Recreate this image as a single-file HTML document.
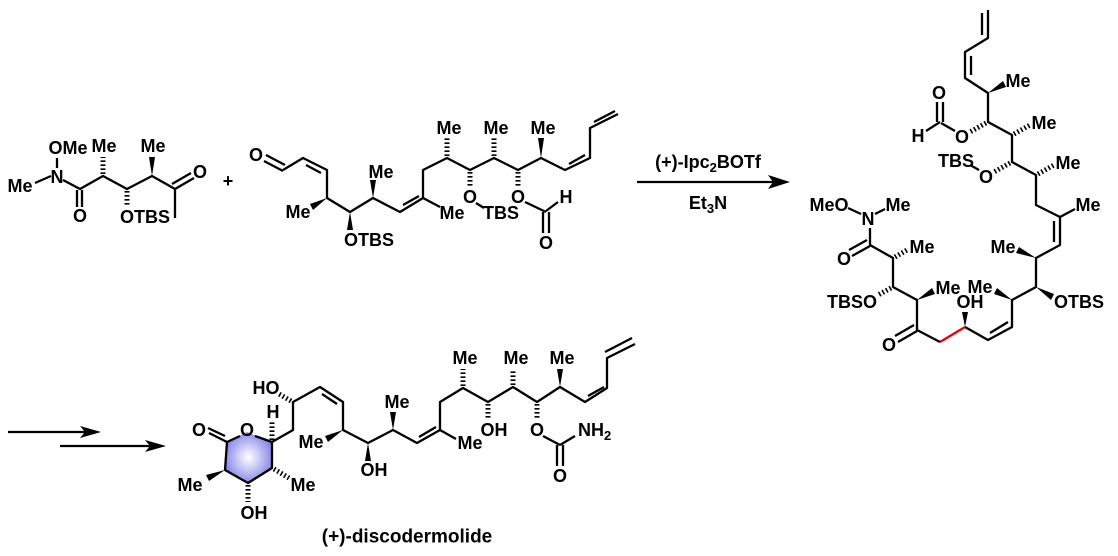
<!DOCTYPE html>
<html><head><meta charset="utf-8"><style>
html,body{margin:0;padding:0;background:#fff;}
svg{display:block;}
text{font-family:"Liberation Sans",Arial,sans-serif;font-weight:bold;font-size:18px;fill:#000;dominant-baseline:central;text-anchor:middle;}
.b{stroke:#000;stroke-width:2.3;fill:none;stroke-linejoin:round;}
.h{stroke:#000;stroke-width:5;stroke-dasharray:1.6 2.4;fill:none;}
.w{fill:#000;}
</style></head><body>
<svg width="1118" height="556" viewBox="0 0 1118 556" xmlns="http://www.w3.org/2000/svg">
<defs><radialGradient id="g" cx="50%" cy="50%" r="55%"><stop offset="0" stop-color="#ffffff"/><stop offset="1" stop-color="#8080e8"/></radialGradient></defs>

<!-- Structure 1 -->
<polyline class="b" points="35,183 51,176"/>
<text x="20" y="186">Me</text>
<text x="57" y="177">N</text>
<polyline class="b" points="57,168 57,158"/>
<text x="68" y="148">OMe</text>
<polyline class="b" points="63,180 80,189 103,176 127,189 152,176 175,189 175,218"/>
<line class="b" x1="77" y1="190" x2="77" y2="207"/><line class="b" x1="82" y1="190" x2="82" y2="207"/>
<text x="80" y="216">O</text>
<line class="h" x1="103" y1="174" x2="103" y2="157"/><text x="104" y="146">Me</text>
<line class="h" x1="127" y1="191" x2="127" y2="207"/><text x="120" y="217" style="text-anchor:start">OTBS</text>
<polygon class="w" points="152,176 149,157 155,157"/><text x="153" y="146">Me</text>
<line class="b" x1="175" y1="189" x2="194" y2="178"/><line class="b" x1="172" y1="184" x2="191" y2="173"/>
<text x="200" y="172">O</text>
<text x="228" y="181">+</text>

<!-- Structure 2 -->
<text x="256" y="155">O</text>
<line class="b" x1="264" y1="161" x2="283" y2="171"/><line class="b" x1="266" y1="155" x2="285" y2="165"/>
<polyline class="b" points="283,170 303,158 327,170 327,198 350,212 373,198 400,212 423,198 423,170 447,158 470,170 494,158 518,170 541,158 565,170 590,158 590,128 618,114"/>
<line class="b" x1="306" y1="165" x2="321" y2="173"/>
<line class="b" x1="403" y1="205" x2="419" y2="196"/>
<line class="b" x1="569" y1="164" x2="585" y2="155"/>
<line class="b" x1="594" y1="122" x2="615" y2="111"/>
<polygon class="w" points="327,198 310,204 313,210"/><text x="298" y="212">Me</text>
<polygon class="w" points="350,212 347,230 353,230"/><text x="344" y="240" style="text-anchor:start">OTBS</text>
<polygon class="w" points="373,198 370,180 376,180"/><text x="381" y="172">Me</text>
<line class="b" x1="423" y1="198" x2="440" y2="207"/><text x="452" y="213">Me</text>
<line class="h" x1="447" y1="156" x2="447" y2="138"/><text x="449" y="128">Me</text>
<line class="h" x1="470" y1="172" x2="470" y2="188"/><text x="470" y="197">O</text>
<line class="b" x1="476" y1="203" x2="484" y2="208"/><text x="501" y="213">TBS</text>
<line class="h" x1="494" y1="156" x2="494" y2="138"/><text x="496" y="128">Me</text>
<line class="h" x1="518" y1="172" x2="518" y2="188"/><text x="518" y="197">O</text>
<line class="b" x1="525" y1="202" x2="546" y2="212"/>
<line class="b" x1="546" y1="211" x2="558" y2="202"/><text x="566" y="197">H</text>
<line class="b" x1="543" y1="212" x2="543" y2="233"/><line class="b" x1="549" y1="212" x2="549" y2="233"/>
<text x="546" y="243">O</text>
<polygon class="w" points="541,158 538,138 544,138"/><text x="543" y="128">Me</text>

<!-- Arrow 1 -->
<line class="b" x1="637" y1="182" x2="775" y2="182"/>
<polygon class="w" points="790,182 768,175 773,182 768,189"/>
<text x="708" y="162">(+)-Ipc<tspan font-size="13" dy="5">2</tspan><tspan dy="-5">BOTf</tspan></text>
<text x="708" y="203">Et<tspan font-size="13" dy="5">3</tspan><tspan dy="-5">N</tspan></text>

<!-- Product -->
<polyline class="b" points="988,10 988,38 965,52 965,78 988,93 988,122 1012,135 1012,162 1036,175 1036,205 1060,217 1060,245 1036,258 1036,287 1012,300 1012,327 988,340 965,327"/>
<line x1="965" y1="327" x2="940" y2="342" stroke="#e00" stroke-width="2.3"/>
<polyline class="b" points="940,342 917,330 917,300 893,287 893,258 870,245 870,228"/>
<line class="b" x1="982" y1="13" x2="982" y2="35"/>
<line class="b" x1="971" y1="56" x2="971" y2="75"/>
<line class="b" x1="1054" y1="221" x2="1054" y2="242"/>
<line class="b" x1="1008" y1="322" x2="990" y2="333"/>
<line class="b" x1="917" y1="331" x2="898" y2="342"/><line class="b" x1="914" y1="325" x2="895" y2="336"/>
<text x="889" y="345">O</text>
<line class="b" x1="870" y1="246" x2="852" y2="256"/><line class="b" x1="867" y1="240" x2="849" y2="250"/>
<text x="844" y="259">O</text>
<text x="868" y="219">N</text>
<text x="829" y="205">MeO</text>
<line class="b" x1="848" y1="208" x2="861" y2="214"/>
<line class="b" x1="875" y1="214" x2="885" y2="209"/>
<text x="898" y="205">Me</text>
<polygon class="w" points="988,93 1003,81 1006,87"/><text x="1018" y="81">Me</text>
<line class="h" x1="986" y1="123" x2="970" y2="132"/><text x="962" y="137">O</text>
<line class="b" x1="955" y1="131" x2="941" y2="123"/>
<line class="b" x1="937" y1="122" x2="937" y2="102"/><line class="b" x1="943" y1="122" x2="943" y2="102"/>
<text x="939" y="93">O</text>
<line class="b" x1="940" y1="122" x2="926" y2="131"/><text x="918" y="136">H</text>
<line class="h" x1="1014" y1="134" x2="1030" y2="125"/><text x="1044" y="123">Me</text>
<line class="h" x1="1010" y1="163" x2="994" y2="172"/><text x="986" y="177">O</text>
<line class="b" x1="979" y1="170" x2="970" y2="165"/><text x="956" y="161">TBS</text>
<line class="h" x1="1038" y1="174" x2="1054" y2="165"/><text x="1068" y="163">Me</text>
<line class="b" x1="1060" y1="217" x2="1075" y2="209"/><text x="1088" y="205">Me</text>
<polygon class="w" points="1036,258 1019,247 1016,253"/><text x="1003" y="247">Me</text>
<polygon class="w" points="1036,287 1051,300 1054,294"/><text x="1054" y="302" style="text-anchor:start">OTBS</text>
<polygon class="w" points="1012,300 997,288 994,294"/><text x="980" y="287">Me</text>
<polygon class="w" points="965,327 962,312 968,312"/><text x="970" y="302">OH</text>
<polygon class="w" points="917,300 932,288 935,294"/><text x="948" y="288">Me</text>
<line class="h" x1="891" y1="288" x2="878" y2="295"/><text x="877" y="302" style="text-anchor:end">TBSO</text>
<line class="h" x1="895" y1="257" x2="907" y2="250"/><text x="922" y="247">Me</text>

<!-- lower arrows -->
<line class="b" x1="8" y1="432" x2="88" y2="432"/>
<polygon class="w" points="101,432 80,426 85,432 80,438"/>
<line class="b" x1="60" y1="446" x2="153" y2="446"/>
<polygon class="w" points="166,446 145,440 150,446 145,452"/>

<!-- Discodermolide -->
<polygon points="227,442 247,432 272,442 272,468 248,483 225,470" fill="url(#g)"/>
<polyline class="b" points="240,436 227,442 225,470 248,483 272,468 272,442 255,436"/>
<text x="247" y="430">O</text>
<line class="b" x1="227" y1="442" x2="209" y2="433"/><line class="b" x1="225" y1="436" x2="208" y2="428"/>
<text x="199" y="430">O</text>
<polygon class="w" points="225,470 206,475 209,481"/><text x="190" y="485">Me</text>
<line class="h" x1="248" y1="485" x2="248" y2="502"/><text x="254" y="513">OH</text>
<line class="h" x1="274" y1="469" x2="289" y2="478"/><text x="303" y="485">Me</text>
<line class="h" x1="272" y1="440" x2="272" y2="421"/><text x="273" y="412">H</text>
<polyline class="b" points="272,442 293,430 293,402 320,387 343,402 343,430 368,443 393,430 417,443 440,430 440,402 463,388 488,402 513,387 537,402 560,387 585,402 607,388 607,358 635,344"/>
<line class="b" x1="322" y1="394" x2="337" y2="404"/>
<line class="b" x1="419" y1="437" x2="436" y2="427"/>
<line class="b" x1="588" y1="396" x2="604" y2="387"/>
<line class="b" x1="605" y1="352" x2="632" y2="338"/>
<line class="h" x1="291" y1="401" x2="279" y2="394"/><text x="266" y="388">HO</text>
<polygon class="w" points="343,430 325,436 328,442"/><text x="311" y="442">Me</text>
<polygon class="w" points="368,443 365,461 371,461"/><text x="374" y="470">OH</text>
<polygon class="w" points="393,430 390,412 396,412"/><text x="397" y="402">Me</text>
<line class="b" x1="440" y1="430" x2="456" y2="439"/><text x="470" y="443">Me</text>
<line class="h" x1="463" y1="386" x2="463" y2="369"/><text x="465" y="358">Me</text>
<line class="h" x1="488" y1="404" x2="488" y2="420"/><text x="494" y="430">OH</text>
<line class="h" x1="513" y1="385" x2="513" y2="369"/><text x="516" y="358">Me</text>
<line class="h" x1="537" y1="404" x2="537" y2="420"/><text x="537" y="430">O</text>
<line class="b" x1="543" y1="436" x2="560" y2="445"/>
<line class="b" x1="557" y1="445" x2="557" y2="466"/><line class="b" x1="563" y1="445" x2="563" y2="466"/>
<text x="560" y="476">O</text>
<line class="b" x1="560" y1="445" x2="575" y2="436"/>
<text x="578" y="430" style="text-anchor:start">NH<tspan font-size="13" dy="5">2</tspan></text>
<polygon class="w" points="560,387 557,369 563,369"/><text x="562" y="358">Me</text>
<text x="407" y="537" style="font-size:19px">(+)-discodermolide</text>
</svg>
</body></html>
